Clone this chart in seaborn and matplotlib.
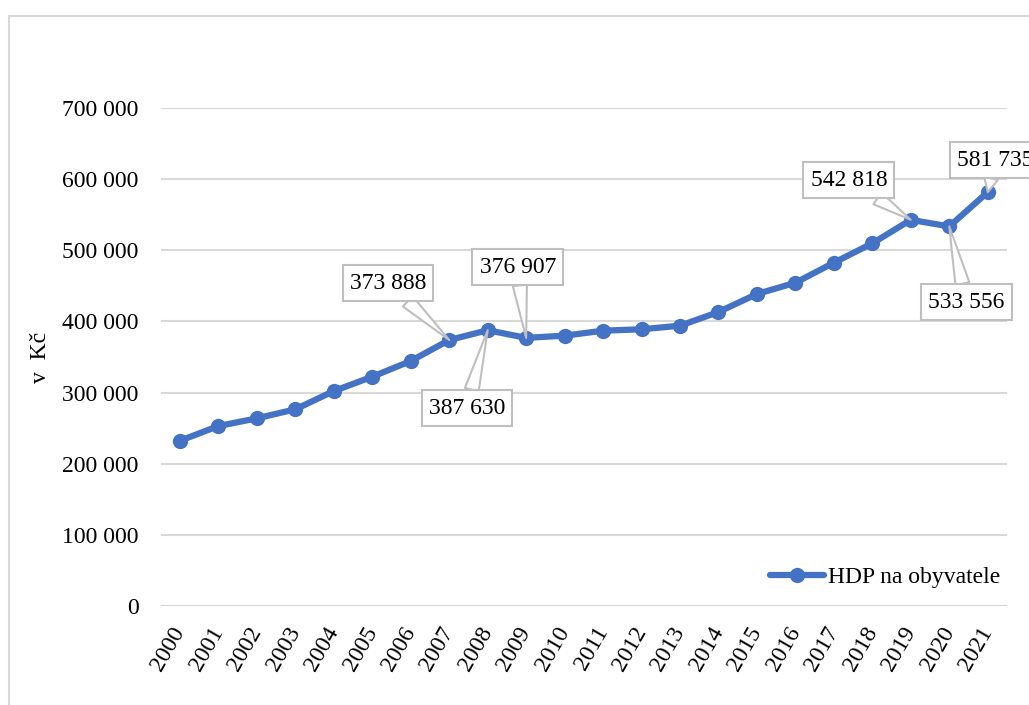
import numpy as np
import pandas as pd
import matplotlib
matplotlib.use('Agg')
import matplotlib.pyplot as plt
from matplotlib.patches import Rectangle
import seaborn as sns

# data
years = [str(y) for y in range(2000, 2022)]
hdp = [232300, 253000, 263800, 276500, 302200, 322300, 344400, 373888, 387630, 376907,
       380000, 387000, 389000, 394000, 413300, 438600, 454400, 482600, 509800, 542818,
       533556, 581735]
# labelled points: year index, text position (x index, y value)
label_idx = [7, 8, 9, 19, 20, 21]
label_pos = [(5.41, 454000), (7.46, 278300), (8.78, 476500),
             (17.39, 598800), (20.45, 427300), (21.2, 626900)]

sns.set_style('white')
plt.rcParams['font.family'] = ['Liberation Serif', 'DejaVu Serif']

blue = '#4472C4'
grey = '#D9D9D9'

df = pd.DataFrame({'idx': np.arange(len(years)), 'HDP na obyvatele': hdp})

fig = plt.figure(figsize=(10.29, 7.05), dpi=100)
ax = fig.add_axes([0.1562, 0.1404, 0.8224, 0.7064])

sns.lineplot(data=df, x='idx', y='HDP na obyvatele', ax=ax, color=blue, linewidth=4.5,
             marker='o', markersize=11, markeredgewidth=0, label='HDP na obyvatele')

ax.set_xlim(-0.5, len(years) - 0.5)
ax.set_ylim(0, 700000)
ax.set_xticks(np.arange(len(years)))
ax.set_xticklabels(years, rotation=60, ha='right', va='center', rotation_mode='anchor',
                   fontsize=17, color='black')
ax.set_yticks(np.arange(0, 700001, 100000))
ax.set_yticklabels([f"{v:,}".replace(',', ' ') for v in range(0, 700001, 100000)],
                   fontsize=17, color='black')
ax.tick_params(axis='y', length=0, pad=16)
ax.tick_params(axis='x', length=0, pad=16)
ax.yaxis.grid(True, color=grey, linewidth=1.5)
ax.set_axisbelow(True)
for s in ax.spines.values():
    s.set_visible(False)
ax.set_xlabel('')
ax.set_ylabel('v  Kč', fontsize=17, labelpad=8, color='black')

for i, (tx, ty) in zip(label_idx, label_pos):
    ax.annotate(f"{hdp[i]:,}".replace(',', ' '), xy=(i, hdp[i]), xytext=(tx, ty),
                textcoords='data', ha='center', va='center', fontsize=17,
                annotation_clip=False, color='black',
                bbox=dict(boxstyle='square,pad=0.3', fc='white', ec='#BFBFBF', lw=1.5),
                arrowprops=dict(arrowstyle='wedge,tail_width=0.6', fc='white', ec='#BFBFBF',
                                lw=1.5, shrinkA=0, shrinkB=0))

leg = ax.legend(loc='lower right', bbox_to_anchor=(1.006, 0.012), frameon=False, fontsize=17,
                handlelength=2.3, handletextpad=0.15, borderaxespad=0.1)
for t in leg.get_texts():
    t.set_color('black')

# chart frame
fig.patches.append(Rectangle((9 / 1029, -0.1), 1.5, 1.1 - 16 / 705, transform=fig.transFigure,
                             fill=False, ec=grey, lw=1.5, zorder=-1))

fig.savefig('out.png', dpi=100)
